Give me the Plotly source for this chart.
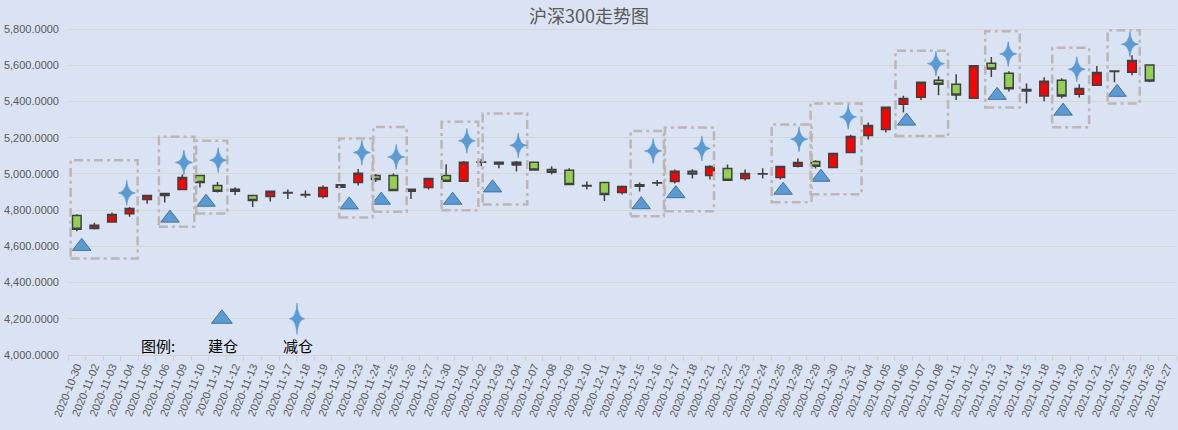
import plotly.graph_objects as go

# trading days on the category axis (last one has no candle yet)
dates = [
    "2020-10-30", "2020-11-02", "2020-11-03", "2020-11-04", "2020-11-05", "2020-11-06",
    "2020-11-09", "2020-11-10", "2020-11-11", "2020-11-12", "2020-11-13", "2020-11-16",
    "2020-11-17", "2020-11-18", "2020-11-19", "2020-11-20", "2020-11-23", "2020-11-24",
    "2020-11-25", "2020-11-26", "2020-11-27", "2020-11-30", "2020-12-01", "2020-12-02",
    "2020-12-03", "2020-12-04", "2020-12-07", "2020-12-08", "2020-12-09", "2020-12-10",
    "2020-12-11", "2020-12-14", "2020-12-15", "2020-12-16", "2020-12-17", "2020-12-18",
    "2020-12-21", "2020-12-22", "2020-12-23", "2020-12-24", "2020-12-25", "2020-12-28",
    "2020-12-29", "2020-12-30", "2020-12-31", "2021-01-04", "2021-01-05", "2021-01-06",
    "2021-01-07", "2021-01-08", "2021-01-11", "2021-01-12", "2021-01-13", "2021-01-14",
    "2021-01-15", "2021-01-18", "2021-01-19", "2021-01-20", "2021-01-21", "2021-01-22",
    "2021-01-25", "2021-01-26", "2021-01-27",
]

open_ = [4771, 4699, 4735, 4780, 4859, 4892, 4914, 4992, 4936, 4916, 4881, 4876, 4897,
         4884, 4876, 4926, 4953, 4992, 4992, 4905, 4925, 4992, 4960, 5066, 5065, 5049,
         5065, 5025, 5020, 4936, 4953, 4898, 4932, 4952, 4958, 5015, 4992, 5030, 4975,
         5001, 4981, 5042, 5069, 5036, 5118, 5212, 5245, 5385, 5424, 5518, 5496, 5418,
         5612, 5556, 5466, 5430, 5518, 5440, 5490, 5568, 5562, 5602]
high = [4777, 4730, 4787, 4818, 4883, 4894, 4997, 4994, 4955, 4927, 4882, 4907, 4914,
        4909, 4936, 4945, 5027, 5000, 5003, 4917, 4978, 5054, 5071, 5082, 5067, 5072,
        5067, 5042, 5031, 4958, 4955, 4936, 4953, 4966, 5025, 5026, 5048, 5052, 5025,
        5031, 5042, 5085, 5076, 5115, 5216, 5284, 5370, 5432, 5508, 5540, 5551, 5598,
        5646, 5567, 5500, 5534, 5529, 5495, 5596, 5570, 5655, 5604]
low = [4683, 4693, 4730, 4763, 4835, 4842, 4912, 4925, 4898, 4884, 4818, 4848, 4862,
       4868, 4865, 4922, 4936, 4956, 4907, 4862, 4914, 4956, 4958, 5042, 5031, 5014,
       5020, 4997, 4940, 4914, 4850, 4887, 4903, 4934, 4947, 4975, 4970, 4963, 4964,
       4975, 4970, 5036, 5030, 5034, 5116, 5190, 5229, 5339, 5408, 5435, 5408, 5416,
       5535, 5456, 5389, 5401, 5418, 5422, 5488, 5507, 5545, 5506]
close = [4694, 4716, 4776, 4809, 4881, 4881, 4980, 4953, 4905, 4905, 4854, 4905, 4895,
         4886, 4925, 4941, 5004, 4970, 4909, 4915, 4975, 4960, 5065, 5064, 5055, 5065,
         5022, 5010, 4942, 4934, 4887, 4931, 4941, 4950, 5015, 5000, 5041, 4965, 5003,
         5000, 5041, 5063, 5042, 5113, 5207, 5267, 5368, 5417, 5507, 5495, 5436, 5597,
         5580, 5470, 5458, 5512, 5430, 5472, 5561, 5566, 5627, 5513]

# 建仓 (triangles) and 减仓 (stars): position in category units, price level
buy_pos = [0.28, 5.30, 7.35, 15.49, 17.31, 21.37, 23.64, 32.09, 34.06, 40.16, 42.31,
           47.18, 52.33, 56.08, 59.15]
buy_price = [4600, 4756, 4844, 4829, 4855, 4855, 4923, 4830, 4891, 4910, 4982,
             5292, 5434, 5347, 5451]
sell_pos = [2.84, 6.09, 8.04, 16.21, 18.16, 22.18, 25.10, 32.77, 35.54, 41.07, 43.86,
            48.85, 52.96, 56.86, 59.88]
sell_price = [4895, 5063, 5076, 5118, 5094, 5183, 5158, 5127, 5141, 5192, 5315,
              5609, 5663, 5578, 5717]

# dashed boxes round each trade
box_x0 = [-0.35, 4.67, 6.79, 14.92, 16.86, 20.74, 23.08, 31.49, 33.44, 39.51, 41.72,
          46.55, 51.65, 55.46, 58.61]
box_x1 = [3.46, 6.68, 8.56, 16.82, 18.76, 22.83, 25.61, 33.38, 36.23, 41.78, 44.62,
          49.54, 53.62, 57.56, 60.44]
box_lo = [4533, 4708, 4782, 4760, 4791, 4800, 4831, 4767, 4794, 4844, 4888,
          5209, 5367, 5258, 5389]
box_hi = [5076, 5205, 5184, 5196, 5259, 5288, 5334, 5237, 5257, 5273, 5389,
          5680, 5788, 5697, 5794]

blue = "#5B9BD5"
cjk = "Noto Sans CJK SC"


def star_path(h, w, c=0.9):
    # thin four-point star, pixel offsets around its anchor
    return (f"M0,{h} Q{c},{c} {w},0 Q{c},-{c} 0,-{h} "
            f"Q-{c},-{c} -{w},0 Q-{c},{c} 0,{h} Z")


fig = go.Figure()

fig.add_trace(go.Candlestick(
    x=dates[:len(close)], open=open_, high=high, low=low, close=close,
    increasing=dict(fillcolor="#FF0000", line=dict(color="#404040", width=1.5)),
    decreasing=dict(fillcolor="#92D050", line=dict(color="#404040", width=1.5)),
    whiskerwidth=0, showlegend=False, hoverinfo="x+y",
))

fig.add_trace(go.Scatter(
    x=buy_pos, y=buy_price, xaxis="x2", mode="markers", showlegend=False,
    marker=dict(symbol="triangle-up", size=16, color=blue, line=dict(color="#41719C", width=1)),
))

# legend drawn inside the plot like the original
fig.add_trace(go.Scatter(
    x=[8.25], y=[4200], xaxis="x2", mode="markers", showlegend=False,
    marker=dict(symbol="triangle-up", size=18, color=blue, line=dict(color="#41719C", width=1)),
))
for txt, xp in [("图例:", 4.62), ("建仓", 8.3), ("减仓", 12.6)]:
    fig.add_annotation(x=xp, y=4052, xref="x2", yref="y", text=txt, showarrow=False,
                       font=dict(family=cjk, size=15, color="#000000"))

for a, b, lo, hi in zip(box_x0, box_x1, box_lo, box_hi):
    fig.add_shape(type="rect", xref="x2", yref="y", x0=a, x1=b, y0=lo, y1=hi,
                  line=dict(color="#BCB6B4", width=2.5, dash="9px,4px,3px,4px"))

for xp, yp in zip(sell_pos, sell_price):
    fig.add_shape(type="path", xref="x2", yref="y", xsizemode="pixel", ysizemode="pixel",
                  xanchor=xp, yanchor=yp, path=star_path(12.5, 8.5),
                  fillcolor=blue, line=dict(color="#5290CC", width=0.6))
fig.add_shape(type="path", xref="x2", yref="y", xsizemode="pixel", ysizemode="pixel",
              xanchor=12.52, yanchor=4200, path=star_path(15.5, 7.5),
              fillcolor=blue, line=dict(color="#5290CC", width=0.6))

fig.update_layout(
    width=1178, height=430,
    margin=dict(l=68, r=2, t=11, b=75),
    paper_bgcolor="#DAE3F3", plot_bgcolor="#DAE3F3",
    title=dict(text="沪深300走势图", x=0.5, xanchor="center", y=1 - 17 / 430,
               yanchor="middle", font=dict(family=cjk, size=18, color="#595959")),
    xaxis=dict(
        type="category", categoryorder="array", categoryarray=dates,
        range=[-0.5, len(dates) - 0.5], rangeslider=dict(visible=False),
        tickangle=-68, tickfont=dict(family="Liberation Sans", size=11, color="#595959"),
        ticks="outside", tickson="boundaries", ticklen=5, tickcolor="#D0D0D0",
        showline=True, linecolor="#D0D0D0", showgrid=False, automargin=False,
    ),
    xaxis2=dict(overlaying="x", range=[-0.5, len(dates) - 0.5], visible=False),
    yaxis=dict(
        range=[4000, 5900], dtick=200, tick0=4000, tickformat=",.4f",
        tickfont=dict(family="Liberation Sans", size=11, color="#595959"),
        gridcolor="#D6D6D3", gridwidth=1, zeroline=False, ticks="",
        ticklabelstandoff=8, automargin=False,
    ),
    hovermode="closest",
)

fig.write_html(
    "out.html",
    config={"displayModeBar": False},
    post_script="document.body.style.margin='0';document.body.style.background='#DAE3F3';",
)
